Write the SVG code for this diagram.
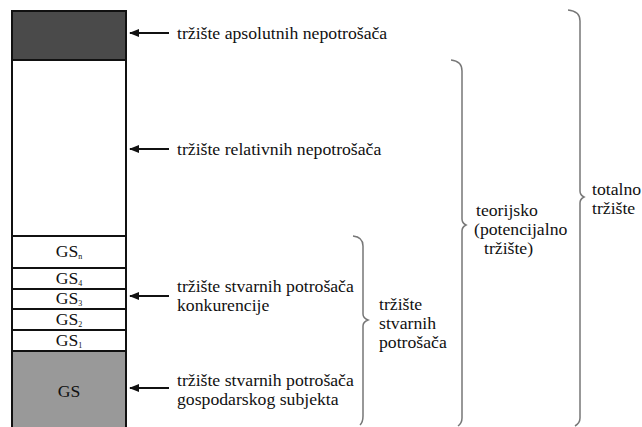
<svg xmlns="http://www.w3.org/2000/svg" width="642" height="427" viewBox="0 0 642 427">
<defs>
<style>
text{font-size:17.7px;fill:#111}
.gs{text-anchor:middle}
.sub{font-size:8px}
.box{stroke:#111;stroke-width:2}
.brace{fill:none;stroke:#777;stroke-width:1.5}
.arr{stroke:#111;stroke-width:2;fill:none}
</style>
<marker id="ah" viewBox="0 0 10 10" refX="9" refY="5" markerWidth="5" markerHeight="5" orient="auto-start-reverse" markerUnits="strokeWidth">
<path d="M0,1 L10,5 L0,9 z" fill="#111"/>
</marker>
</defs>
<rect width="642" height="427" fill="#fff"/>
<g id="column" font-family="Liberation Serif">
<g id="abs"><rect class="box" x="12" y="11" width="114" height="49" fill="#4a4a4a"/></g>
<g id="rel"><rect class="box" x="12" y="60" width="114" height="176" fill="#fff"/></g>
<g id="gsn"><rect class="box" x="12" y="236" width="114" height="32" fill="#fff"/><text class="gs" x="69" y="257">GS<tspan class="sub" dy="2">n</tspan></text></g>
<g id="gs4"><rect class="box" x="12" y="268" width="114" height="21" fill="#fff"/><text class="gs" x="69" y="284">GS<tspan class="sub" dy="2">4</tspan></text></g>
<g id="gs3"><rect class="box" x="12" y="289" width="114" height="20" fill="#fff"/><text class="gs" x="69" y="304">GS<tspan class="sub" dy="2">3</tspan></text></g>
<g id="gs2"><rect class="box" x="12" y="309" width="114" height="21" fill="#fff"/><text class="gs" x="69" y="325">GS<tspan class="sub" dy="2">2</tspan></text></g>
<g id="gs1"><rect class="box" x="12" y="330" width="114" height="21" fill="#fff"/><text class="gs" x="69" y="346">GS<tspan class="sub" dy="2">1</tspan></text></g>
<g id="gs"><rect class="box" x="12" y="351" width="114" height="80" fill="#999"/><text class="gs" x="69" y="397">GS</text></g>
</g>
<g id="connectors">
<line class="arr" x1="169" y1="33" x2="130" y2="33" marker-end="url(#ah)"/>
<line class="arr" x1="169" y1="149" x2="130" y2="149" marker-end="url(#ah)"/>
<line class="arr" x1="169" y1="296" x2="130" y2="296" marker-end="url(#ah)"/>
<line class="arr" x1="169" y1="388" x2="130" y2="388" marker-end="url(#ah)"/>
</g>
<g id="labels" font-family="Liberation Serif">
<text x="177" y="39">tržište apsolutnih nepotrošača</text>
<text x="177" y="155">tržište relativnih nepotrošača</text>
<text x="177" y="292">tržište stvarnih potrošača</text>
<text x="177" y="311">konkurencije</text>
<text x="177" y="386">tržište stvarnih potrošača</text>
<text x="177" y="405">gospodarskog subjekta</text>
</g>
<g id="brace-stvarni" font-family="Liberation Serif">
<path class="brace" d="M353,236 Q363,237 363,246 L363,314 Q363,318 368,320 Q363,322 363,326 L363,416 Q363,422 360,425"/>
<text x="379" y="310">tržište</text>
<text x="379" y="329">stvarnih</text>
<text x="379" y="348">potrošača</text>
</g>
<g id="brace-teorijsko" font-family="Liberation Serif">
<path class="brace" d="M451,60 Q462,61 462,71 L462,219 Q462,223 466,225 Q462,227 462,231 L462,418 Q462,423 458,426"/>
<text x="476" y="216">teorijsko</text>
<text x="474" y="235">(potencijalno</text>
<text x="484" y="254">tržište)</text>
</g>
<g id="brace-totalno" font-family="Liberation Serif">
<path class="brace" d="M568,10 Q580,11 580,21 L580,191 Q580,195 584,197 Q580,199 580,203 L580,418 Q580,423 575,426"/>
<text x="592" y="195">totalno</text>
<text x="592" y="214">tržište</text>
</g>
</svg>
